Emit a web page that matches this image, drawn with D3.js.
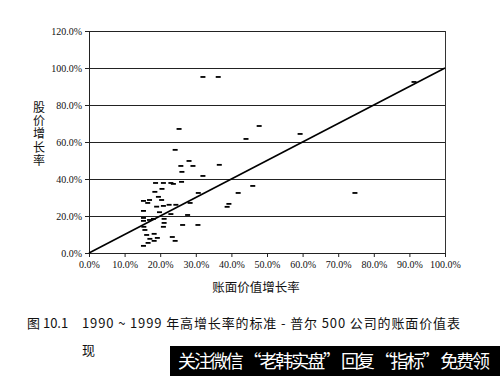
<!DOCTYPE html>
<html>
<head>
<meta charset="utf-8">
<script src="https://cdn.jsdelivr.net/npm/d3@7"></script>
<style>
  body { margin: 0; background: #fff; }
  svg { display: block; }
</style>
</head>
<body>
<div id="chart"></div>
<script>
// book value growth (x) vs. stock price growth (y), in percent
const bookGrowth = [
  24.2, 28.1, 25.8, 29.2, 26.1, 36.6, 32.0, 18.7, 20.9, 23.0, 23.7, 26.0,
  20.5, 18.5, 30.7, 19.5, 20.4, 15.3, 17.0, 16.5, 19.0, 20.9, 22.5, 24.4,
  28.4, 15.3, 19.8, 23.0, 27.7, 15.3, 15.3, 17.0, 18.1, 21.1, 21.1, 15.4,
  20.9, 26.3, 30.6, 15.7, 16.2, 18.3, 17.1, 19.2, 18.3, 23.4, 24.2, 16.6,
  15.3, 32.0, 36.3, 25.3, 47.8, 59.3, 91.3, 44.1, 46.0, 74.7, 41.9, 39.3,
  38.8
];
const priceGrowth = [
  55.7, 49.7, 47.0, 47.0, 43.8, 47.6, 41.6, 37.8, 37.8, 37.8, 37.3, 38.4,
  34.6, 33.0, 32.4, 30.3, 28.6, 28.1, 28.6, 27.0, 25.0, 25.4, 26.0, 26.0,
  27.0, 22.7, 22.0, 21.0, 20.5, 18.9, 17.3, 17.8, 18.4, 18.4, 16.2, 14.1,
  14.1, 15.1, 15.1, 12.4, 9.7, 10.3, 7.6, 8.1, 6.5, 8.6, 6.5, 5.4,
  3.8, 95.1, 95.1, 67.0, 68.6, 64.3, 92.4, 61.6, 36.2, 32.4, 32.4, 26.5,
  24.9
];
const xTicks = [0, 10, 20, 30, 40, 50, 60, 70, 80, 90, 100];
const yTicks = [0, 20, 40, 60, 80, 100, 120];
const refLine = [[0, 0], [100, 100]];

const yTitle = '股价增长率';
const xTitle = '账面价值增长率';
const captionNo = '图 10.1';
const captionLines = ['1990 ~ 1999 年高增长率的标准 - 普尔 500 公司的账面价值表', '现'];
const banner = '关注微信 “老韩实盘” 回复 “指标” 免费领';

const width = 500;
const height = 376;
const margin = { top: 31, left: 89, right: 55, bottom: 123 };
const plotW = width - margin.left - margin.right;
const plotH = height - margin.top - margin.bottom;

const svg = d3.select('#chart')
  .append('svg')
  .attr('width', width)
  .attr('height', height);

const g = svg.append('g').attr('transform', `translate(${margin.left}, ${margin.top})`);

const x = d3.scaleLinear().domain([0, 100]).range([0, plotW]);
const y = d3.scaleLinear().domain([0, 120]).range([plotH, 0]);
const fmt = (d) => d.toFixed(1) + '%';
const serif = '"Times New Roman", "Liberation Serif", serif';
const cjk = '"Noto Sans CJK SC", sans-serif';

// gridlines
g.selectAll('.grid')
  .data(yTicks)
  .enter()
  .append('line')
  .attr('x1', 0)
  .attr('x2', plotW)
  .attr('y1', (d) => Math.round(y(d)) + 0.5)
  .attr('y2', (d) => Math.round(y(d)) + 0.5)
  .attr('stroke', '#222')
  .attr('stroke-width', 1);

// right border
g.append('line')
  .attr('x1', plotW + 0.5).attr('x2', plotW + 0.5)
  .attr('y1', 0).attr('y2', plotH)
  .attr('stroke', '#333');

const yAxis = g.append('g')
  .call(d3.axisLeft(y).tickValues(yTicks).tickFormat(fmt).tickSize(4).tickPadding(3));
const xAxis = g.append('g')
  .attr('transform', `translate(0, ${plotH})`)
  .call(d3.axisBottom(x).tickValues(xTicks).tickFormat(fmt).tickSize(4).tickPadding(4));

[xAxis, yAxis].forEach((ax) => {
  ax.attr('font-family', serif);
  ax.select('.domain').attr('stroke', '#222');
  ax.selectAll('.tick line').attr('stroke', '#222');
  ax.selectAll('text')
    .style('font-family', serif)
    .style('font-size', '10px')
    .attr('fill', '#111');
});

// reference diagonal
g.append('path')
  .attr('d', d3.line().x((d) => x(d[0])).y((d) => y(d[1]))(refLine))
  .attr('fill', 'none')
  .attr('stroke', '#000')
  .attr('stroke-width', 1.6);

// dash markers
g.selectAll('.pt')
  .data(bookGrowth.map((v, i) => [v, priceGrowth[i]]))
  .enter()
  .append('rect')
  .attr('x', (d) => x(d[0]) - 2.5)
  .attr('y', (d) => y(d[1]) - 1)
  .attr('width', 5)
  .attr('height', 1.8)
  .attr('fill', '#000');

// axis titles
svg.append('text')
  .attr('x', 39)
  .attr('y', 101)
  .style('writing-mode', 'vertical-rl')
  .style('glyph-orientation-vertical', '0')
  .style('letter-spacing', '1.4px')
  .style('font-family', cjk)
  .style('font-size', '12px')
  .attr('fill', '#111')
  .text(yTitle);

svg.append('text')
  .attr('x', 256)
  .attr('y', 292)
  .attr('text-anchor', 'middle')
  .style('font-family', cjk)
  .style('font-size', '12.5px')
  .attr('fill', '#111')
  .text(xTitle);

// caption
svg.append('text')
  .attr('x', 27)
  .attr('y', 328)
  .style('font-family', cjk)
  .style('font-size', '13px')
  .attr('fill', '#111')
  .text(captionNo);

svg.selectAll('.cap')
  .data(captionLines)
  .enter()
  .append('text')
  .attr('x', 82)
  .attr('y', (d, i) => 328 + i * 27)
  .attr('textLength', (d, i) => (i === 0 ? 378 : null))
  .style('font-family', cjk)
  .style('font-size', '13px')
  .attr('fill', '#111')
  .text((d) => d);

// overlay banner
svg.append('rect')
  .attr('x', 170).attr('y', 346)
  .attr('width', 330).attr('height', 30)
  .attr('fill', '#000');
svg.append('text')
  .attr('x', 178)
  .attr('y', 368)
  .attr('textLength', 312)
  .style('font-family', cjk)
  .style('font-size', '18px')
  .attr('fill', '#fff')
  .text(banner);
</script>
</body>
</html>
